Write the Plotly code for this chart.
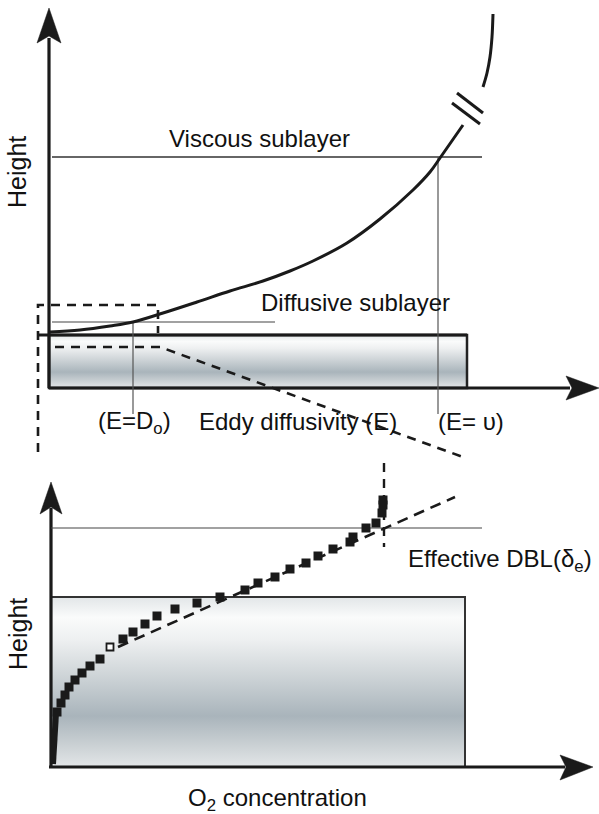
import plotly.graph_objects as go

# ---- data (schematic coordinates, canvas units) ----
# eddy diffusivity curve (top panel)
E_x = [50, 80, 110, 133, 163, 197, 230, 263, 290, 313, 347, 380, 413, 430, 440, 463]
E_y = [332, 330, 326, 322, 313, 302, 291, 281, 271, 261, 243, 219, 190, 172, 158, 125]
E_top_x = [483, 487, 490, 492, 493]
E_top_y = [87, 73, 57, 37, 14]

# O2 profile markers (bottom panel)
O2_x = [57, 61, 65, 69, 75, 82, 90, 100, 123, 133, 145, 157, 175, 197, 220, 245,
        258, 275, 290, 306, 318, 333, 350, 353, 366, 376, 382, 383, 383]
O2_y = [712, 703, 695, 687, 680, 673, 666, 659, 639, 632, 624, 616, 609, 603, 597, 590,
        583, 577, 569, 563, 556, 549, 542, 537, 528, 523, 513, 505, 500]
O2_open_x = [110]
O2_open_y = [647]
O2_base_x = [53, 54, 56]
O2_base_y = [764, 735, 713]

# linear fit & effective DBL
fit_x = [118, 455]
fit_y = [647, 497]
dbl_y = 528
dbl_x = 384

# layer levels
viscous_y = 157
diffusive_y = 322
E_D0_x = 133
E_nu_x = 438

BLACK = "#1a1a1a"
GRAY = "#444444"
FONT = "Liberation Sans, Arial, Helvetica, sans-serif"

grad = [[0.0, "#e2e6e8"], [0.12, "#fafbfb"], [0.25, "#eef0f1"], [0.45, "#d0d6d9"],
        [0.7, "#a9b4bb"], [0.88, "#ccd2d5"], [1.0, "#e3e6e8"]]

fig = go.Figure()

def line(xs, ys, width=1.3, color=GRAY, dash="solid", shape="linear"):
    fig.add_trace(go.Scatter(x=xs, y=ys, mode="lines", hoverinfo="skip",
                             line=dict(color=color, width=width, dash=dash, shape=shape),
                             showlegend=False))

def poly(xs, ys, color=BLACK):
    fig.add_trace(go.Scatter(x=xs, y=ys, mode="lines", fill="toself", fillcolor=color,
                             line=dict(color=color, width=0.5), hoverinfo="skip",
                             showlegend=False))

def grad_rect(x0, x1, y0, y1, border, bw):
    fig.add_trace(go.Scatter(x=[x0, x1, x1, x0, x0], y=[y0, y0, y1, y1, y0], mode="lines",
                             fill="toself",
                             fillgradient=dict(type="vertical", colorscale=grad,
                                               start=y0, stop=y1),
                             line=dict(color=border, width=bw), hoverinfo="skip",
                             showlegend=False))

# ---------- top panel ----------
grad_rect(49, 467, 335, 388, "#222222", 2.5)
line([37, 467], [335, 335], width=3, color=BLACK)
# axes
line([49, 49], [38, 388], width=3.2, color=BLACK)
line([49, 570], [388, 388], width=3.2, color=BLACK)
poly([49, 61, 49, 37, 49], [8, 43, 36, 43, 8])
poly([599, 566, 572, 566, 599], [388, 376, 388, 400, 388])
# layer lines
line([52, 482], [viscous_y, viscous_y], width=1.4, color="#333333")
line([52, 275], [diffusive_y, diffusive_y], width=1.2, color="#444444")
line([E_D0_x, E_D0_x], [diffusive_y, 414], width=1.2, color="#555555")
line([E_nu_x, E_nu_x], [viscous_y, 414], width=1.2, color="#555555")
# curve
line(E_x, E_y, width=3, color=BLACK, shape="spline")
line(E_top_x, E_top_y, width=3, color=BLACK, shape="spline")
# break marks
line([457, 483], [93, 113], width=3, color=BLACK)
line([452, 480], [103, 124], width=3, color=BLACK)
# dashed zoom box
line([38, 38, 158, 158], [452, 305, 305, 333], width=2.6, color=BLACK, dash="9px,7px")
line([55, 160, 463], [347, 347, 457], width=2.6, color=BLACK, dash="9px,7px")

# ---------- bottom panel ----------
grad_rect(51, 465, 597, 767, "#333333", 2)
line([51, 51], [508, 767], width=3.2, color=BLACK)
line([49, 565], [767, 767], width=3.2, color=BLACK)
poly([51, 62, 51, 40, 51], [482, 514, 507, 514, 482])
poly([593, 560, 566, 560, 593], [767, 755, 767, 780, 767])
line([51, 482], [dbl_y, dbl_y], width=1.2, color="#444444")
line([dbl_x, dbl_x], [463, 547], width=2.4, color=BLACK, dash="9px,7px")
line(fit_x, fit_y, width=2.6, color=BLACK, dash="11px,7px")
line(O2_base_x, O2_base_y, width=6, color=BLACK)
fig.add_trace(go.Scatter(x=O2_x, y=O2_y, mode="markers", hoverinfo="skip", showlegend=False,
                         marker=dict(symbol="square", size=9, color=BLACK, line=dict(width=0))))
fig.add_trace(go.Scatter(x=O2_open_x, y=O2_open_y, mode="markers", hoverinfo="skip",
                         showlegend=False,
                         marker=dict(symbol="square", size=7, color="white",
                                     line=dict(width=1.8, color=BLACK))))

# ---------- text ----------
def text(x, y, s, angle=0, size=24):
    fig.add_annotation(x=x, y=y, text=s, showarrow=False, textangle=angle,
                       xanchor="center", yanchor="middle",
                       font=dict(family=FONT, size=size, color="#111111"))

text(259, 138, "Viscous sublayer")
text(355, 302, "Diffusive sublayer")
text(17, 172, "Height", angle=-90, size=25)
text(134, 422, "(E=D<sub>o</sub>)")
text(298, 421, "Eddy diffusivity (E)")
text(471, 421, "(E= υ)")
text(500, 560, "Effective DBL(δ<sub>e</sub>)")
text(18, 634, "Height", angle=-90, size=25)
text(277, 799, "O<sub>2</sub> concentration")

fig.update_layout(
    width=599, height=814, margin=dict(l=0, r=0, t=0, b=0),
    paper_bgcolor="white", plot_bgcolor="white",
    xaxis=dict(range=[0, 599], visible=False, fixedrange=True),
    yaxis=dict(range=[814, 0], visible=False, fixedrange=True),
    showlegend=False,
)

fig.write_html("out.html", config={"displayModeBar": False},
               post_script="document.body.style.margin='0';document.body.style.overflow='hidden';")
